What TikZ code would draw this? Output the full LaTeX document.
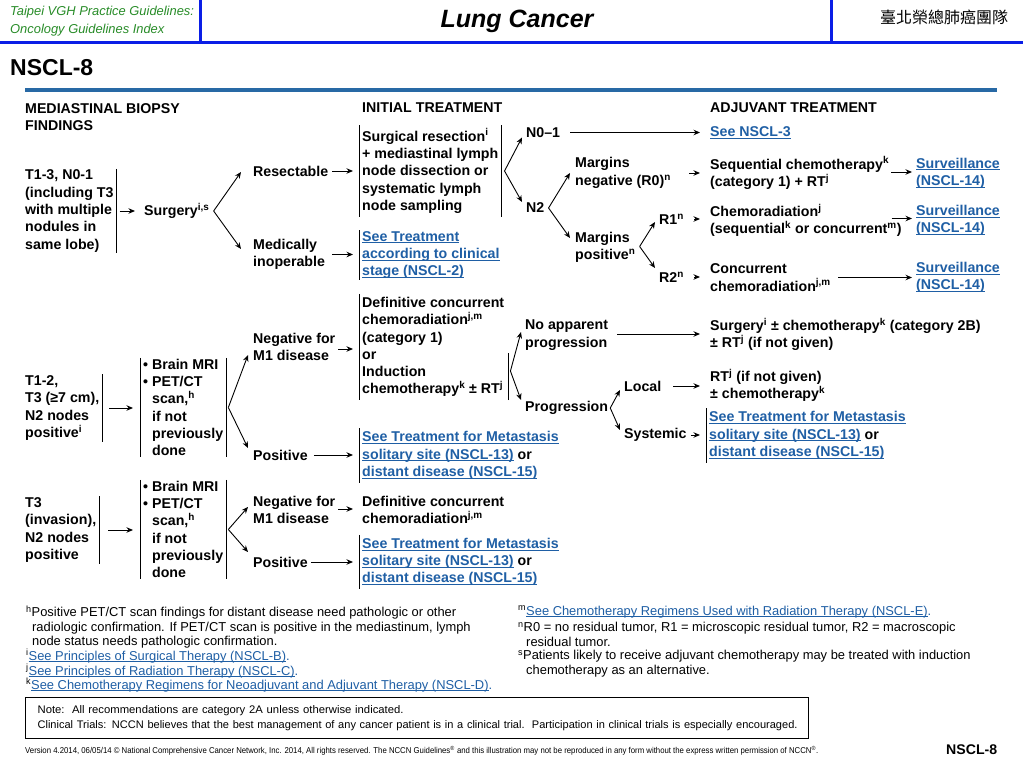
\documentclass[tikz,border=0pt]{standalone}
\usepackage{fontspec}
\setmainfont{Liberation Sans}
\newfontfamily\cjkfont{Noto Sans CJK TC}
\usepackage{graphicx}
\usetikzlibrary{arrows.meta,calc}
\definecolor{lnkblue}{RGB}{31,95,165}
\definecolor{hblue}{RGB}{10,30,230}
\definecolor{hgreen}{RGB}{40,140,40}
\definecolor{rulecol}{RGB}{40,105,165}
\newcommand{\bodyf}{\fontsize{14.2}{17.3}\selectfont\bfseries}
\newcommand{\fnf}{\fontsize{12.9}{14.6}\selectfont}
\newcommand{\su}[1]{\textsuperscript{#1}}
\newcommand{\lk}[1]{\setbox0\hbox{#1}\rlap{\rule[-2.2pt]{\wd0}{0.9pt}}\box0}
\newcommand{\lkf}[1]{\setbox0\hbox{#1}\rlap{\rule[-1.8pt]{\wd0}{0.7pt}}\box0}
\newcommand{\bk}[1]{\textcolor{black}{#1}}
\newcommand{\blk}[1]{\textcolor{lnkblue}{\lkf{#1}}}
\newcommand{\ind}{\phantom{\textbullet\ }}
\tikzset{
  txt/.style={font=\bodyf, align=left, inner sep=0pt, anchor=west},
  lnk/.style={txt, text=lnkblue},
  fn/.style={font=\fnf, align=left, inner sep=0pt, anchor=west},
  barline/.style={draw=black, line width=1pt, -},
  lbar/.style={inner xsep=3pt, inner ysep=1pt, append after command={(\tikzlastnode.north west) edge[barline] (\tikzlastnode.south west)}},
  rbar/.style={inner xsep=3pt, inner ysep=1pt, append after command={(\tikzlastnode.north east) edge[barline] (\tikzlastnode.south east)}},
  arr/.style={-{Stealth[length=6.5pt,width=5.5pt]}, line width=0.9pt},
}
\begin{document}
\begin{tikzpicture}[x=1pt,y=-1pt]
\useasboundingbox (0,0) rectangle (1023,767);
\fill[white] (0,0) rectangle (1023,767);
% header
\draw[hblue, line width=3pt] (0,43) -- (1023,43);
\draw[hblue, line width=3pt] (200,0) -- (200,43);
\draw[hblue, line width=3pt] (831,0) -- (831,43);
\node[anchor=west, inner sep=0pt, align=left, text=hgreen, font=\fontsize{12.9}{18}\selectfont\itshape] (hdr) at (10,21) {Taipei VGH Practice Guidelines:\\Oncology Guidelines Index};
\node[inner sep=0pt, font=\fontsize{25}{30}\selectfont\bfseries\itshape] (title) at (517,21) {Lung Cancer};
\node[anchor=west, inner sep=0pt, font=\cjkfont\fontsize{16}{16}\selectfont] (cjk) at (880,17) {臺北榮總肺癌團隊};
\node[anchor=west, inner sep=0pt, font=\fontsize{23}{23}\selectfont\bfseries] (page) at (10,68) {NSCL-8};
\draw[rulecol, line width=4pt] (25,90) -- (997,90);
% column heads
\node[txt] (h1) at (25,117) {MEDIASTINAL BIOPSY\\FINDINGS};
\node[txt] (h2) at (362,108) {INITIAL TREATMENT};
\node[txt] (h3) at (710,108) {ADJUVANT TREATMENT};
% ---------- row 1
\node[txt,rbar] (t13) at (22,211) {T1-3, N0-1\\(including T3\\with multiple\\nodules in\\same lobe)};
\node[txt] (surg) at (144,211) {Surgery\su{i,s}};
\node[txt] (res) at (253,171) {Resectable};
\node[txt] (med) at (253,254.5) {Medically\\inoperable};
\node[txt,lbar,rbar,inner ysep=3pt] (srx) at (359,171) {Surgical resection\su{i}\\+ mediastinal lymph\\node dissection or\\systematic lymph\\node sampling};
\node[lnk,lbar] (seeT) at (359,255) {\lk{See Treatment}\\\lk{according to clinical}\\\lk{stage (NSCL-2)}};
\node[txt] (n01) at (526,132.5) {N0--1};
\node[txt] (n2) at (526,208) {N2};
\node[txt] (mneg) at (575,173) {Margins\\negative (R0)\su{n}};
\node[txt] (mpos) at (575,247.5) {Margins\\positive\su{n}};
\node[txt] (r1) at (659,219) {R1\su{n}};
\node[txt] (r2) at (659,277) {R2\su{n}};
\node[lnk] (nscl3) at (710,133) {\lk{See NSCL-3}};
\node[txt] (seq) at (710,173) {Sequential chemotherapy\su{k}\\(category 1) + RT\su{j}};
\node[txt] (chr) at (710,220.5) {Chemoradiation\su{j}\\(sequential\su{k} or concurrent\su{m})};
\node[txt] (conc) at (710,277.5) {Concurrent\\chemoradiation\su{j,m}};
\node[lnk] (sv1) at (916,173) {\lk{Surveillance}\\\lk{(NSCL-14)}};
\node[lnk] (sv2) at (916,220.5) {\lk{Surveillance}\\\lk{(NSCL-14)}};
\node[lnk] (sv3) at (916,277.5) {\lk{Surveillance}\\\lk{(NSCL-14)}};
% row 1 connectors
\draw[arr] ([xshift=3pt]t13.east) -- ([xshift=-9pt]t13.east -| surg.west);
\coordinate (v1) at ([xshift=4pt]surg.east);
\draw[arr] (v1) -- ([xshift=-12pt,yshift=-1pt]res.west);
\draw[arr] (v1) -- ([xshift=-12pt,yshift=5.5pt]med.west);
\draw[arr] ([xshift=4pt]res.east) -- ([xshift=-6pt]res.east -| srx.west);
\draw[arr] ([xshift=7pt]med.east) -- ([xshift=-6pt]med.east -| seeT.west);
\coordinate (v2) at ([xshift=3pt]srx.east);
\draw[arr] (v2) -- ([xshift=-4pt,yshift=-5pt]n01.west);
\draw[arr] (v2) -- ([xshift=-4pt,yshift=6pt]n2.west);
\draw[arr] ([xshift=10pt]n01.east) -- ([xshift=-10pt]n01.east -| nscl3.west);
\coordinate (v3) at ([xshift=4pt]n2.east);
\draw[arr] (v3) -- ([xshift=-5pt]mneg.west);
\draw[arr] (v3) -- ([xshift=-5pt,yshift=9.5pt]mpos.west);
\coordinate (v4) at ([xshift=4pt,yshift=1pt]mpos.east);
\draw[arr] (v4) -- ([xshift=-4pt,yshift=-3pt]r1.west);
\draw[arr] (v4) -- ([xshift=-4pt,yshift=9pt]r2.west);
\draw[arr] ([xshift=18pt]mneg.east) -- ([xshift=-10pt]mneg.east -| seq.west);
\draw[arr] ([xshift=10pt]r1.east) -- ([xshift=-10pt]r1.east -| chr.west);
\draw[arr] ([xshift=10pt]r2.east) -- ([xshift=-10pt]r2.east -| conc.west);
\draw[arr] ([xshift=2pt,yshift=1pt]seq.east) -- ([xshift=-4pt,yshift=1pt]seq.east -| sv1.west);
\draw[arr] ([xshift=-10pt,yshift=2pt]chr.east) -- ([xshift=-4pt,yshift=2pt]chr.east -| sv2.west);
\draw[arr] ([xshift=7pt]conc.east) -- ([xshift=-4pt]conc.east -| sv3.west);
% ---------- row 2
\node[txt,rbar] (t12) at (22,408) {T1-2,\\T3 (≥7 cm),\\N2 nodes\\positive\su{i}};
\node[txt,lbar,rbar] (br2) at (140,407.5) {• Brain MRI\\• PET/CT\\\ind scan,\su{h}\\\ind if not\\\ind previously\\\ind done};
\node[txt] (neg2) at (253,347) {Negative for\\M1 disease};
\node[txt] (pos2) at (253,455) {Positive};
\node[txt,lbar,inner ysep=3pt] (def) at (359,347) {Definitive concurrent\\chemoradiation\su{j,m}\\(category 1)\\or\\Induction\\chemotherapy\su{k} ± RT\su{j}};
\draw[barline] ([xshift=1pt]def.south east) -- ([xshift=1pt,yshift=47pt]def.south east);
\node[lnk,lbar,inner ysep=3pt] (met2) at (359,455.5) {\lk{See Treatment for Metastasis}\\\lk{solitary site (NSCL-13)}\ \bk{or}\\\lk{distant disease (NSCL-15)}};
\node[txt] (noap) at (525,335) {No apparent\\progression};
\node[txt] (prog) at (525,408) {Progression};
\node[txt] (loc) at (624,386) {Local};
\node[txt] (sys) at (624,435) {Systemic};
\node[txt] (surg2) at (710,334.5) {Surgery\su{i} ± chemotherapy\su{k} (category 2B)\\± RT\su{j} (if not given)};
\node[txt] (rt) at (710,385.5) {RT\su{j} (if not given)\\± chemotherapy\su{k}};
\node[lnk,lbar,inner ysep=3pt] (met3) at (706,435.5) {\lk{See Treatment for Metastasis}\\\lk{solitary site (NSCL-13)}\ \bk{or}\\\lk{distant disease (NSCL-15)}};
% row 2 connectors
\draw[arr] ([xshift=7pt]t12.east) -- ([xshift=-7pt]t12.east -| br2.west);
\coordinate (v5) at ([xshift=2pt]br2.east);
\draw[arr] (v5) -- ([xshift=-5pt,yshift=-8pt]neg2.west);
\draw[arr] (v5) -- ([xshift=-5pt,yshift=7pt]pos2.west);
\draw[arr] ([xshift=3pt,yshift=-2pt]neg2.east) -- ([xshift=-6pt,yshift=-2pt]neg2.east -| def.west);
\draw[arr] ([xshift=6pt]pos2.east) -- ([xshift=-6pt]pos2.east -| met2.west);
\coordinate (v6) at ([xshift=3pt,yshift=29pt]def.south east);
\draw[arr] (v6) -- ([xshift=-4pt,yshift=3pt]noap.west);
\draw[arr] (v6) -- ([xshift=-4pt,yshift=8pt]prog.west);
\coordinate (v7) at ([xshift=2pt]prog.east);
\draw[arr] (v7) -- ([xshift=-4pt,yshift=-4pt]loc.west);
\draw[arr] (v7) -- ([xshift=-4pt,yshift=5pt]sys.west);
\draw[arr] ([xshift=9pt,yshift=1pt]noap.east) -- ([xshift=-10pt,yshift=1pt]noap.east -| surg2.west);
\draw[arr] ([xshift=12pt]loc.east) -- ([xshift=-10pt]loc.east -| rt.west);
\draw[arr] ([xshift=4pt]sys.east) -- ([xshift=-6pt]sys.east -| met3.west);
% ---------- row 3
\node[txt,rbar] (t3) at (22,530) {T3\\(invasion),\\N2 nodes\\positive};
\node[txt,lbar,rbar] (br3) at (140,529.5) {• Brain MRI\\• PET/CT\\\ind scan,\su{h}\\\ind if not\\\ind previously\\\ind done};
\node[txt] (neg3) at (253,510) {Negative for\\M1 disease};
\node[txt] (pos3) at (253,562) {Positive};
\node[txt] (def2) at (362,510) {Definitive concurrent\\chemoradiation\su{j,m}};
\node[lnk,lbar,inner ysep=3pt] (met4) at (359,562) {\lk{See Treatment for Metastasis}\\\lk{solitary site (NSCL-13)}\ \bk{or}\\\lk{distant disease (NSCL-15)}};
\draw[arr] ([xshift=9pt]t3.east) -- ([xshift=-7pt]t3.east -| br3.west);
\coordinate (v8) at ([xshift=2pt]br3.east);
\draw[arr] (v8) -- ([xshift=-5pt,yshift=3pt]neg3.west);
\draw[arr] (v8) -- ([xshift=-5pt,yshift=10pt]pos3.west);
\draw[arr] ([xshift=3pt,yshift=1pt]neg3.east) -- ([xshift=-9pt,yshift=1pt]neg3.east -| def2.west);
\draw[arr] ([xshift=3pt]pos3.east) -- ([xshift=-6pt]pos3.east -| met4.west);
% ---------- footnotes
\node[fn] (fh) at (26,627) {\su{h}Positive PET/CT scan findings for distant disease need pathologic or other\\\hspace*{6pt}radiologic confirmation. If PET/CT scan is positive in the mediastinum, lymph\\\hspace*{6pt}node status needs pathologic confirmation.};
\node[fn] (fi) at (26,656) {\su{i}\blk{See Principles of Surgical Therapy (NSCL-B)}\textcolor{lnkblue}{.}};
\node[fn] (fj) at (26,671) {\su{j}\blk{See Principles of Radiation Therapy (NSCL-C)}\textcolor{lnkblue}{.}};
\node[fn] (fk) at (26,685) {\su{k}\blk{See Chemotherapy Regimens for Neoadjuvant and Adjuvant Therapy (NSCL-D)}\textcolor{lnkblue}{.}};
\node[fn] (fm) at (518,612) {\su{m}\blk{See Chemotherapy Regimens Used with Radiation Therapy (NSCL-E)}\textcolor{lnkblue}{.}};
\node[fn] (fn2) at (518,634.5) {\su{n}R0 = no residual tumor, R1 = microscopic residual tumor, R2 = macroscopic\\\hspace*{8pt}residual tumor.};
\node[fn] (fs) at (518,663.5) {\su{s}Patients likely to receive adjuvant chemotherapy may be treated with induction\\\hspace*{8pt}chemotherapy as an alternative.};
% ---------- note box
\node[draw, line width=1.2pt, anchor=north west, minimum width=783pt, minimum height=41pt, inner xsep=12pt, inner ysep=0pt, align=left, text width=759pt, font=\fontsize{11}{14.5}\selectfont] (note) at (25,697)
 {\resizebox{366pt}{\height}{Note:\ \ All recommendations are category 2A unless otherwise indicated.}\\
  \resizebox{760pt}{\height}{Clinical Trials: NCCN believes that the best management of any cancer patient is in a clinical trial.\ \ Participation in clinical trials is especially encouraged.}};
\node[anchor=west, inner sep=0pt, font=\fontsize{8.5}{9}\selectfont] (ver) at (25,751)
 {\resizebox{793pt}{\height}{Version 4.2014, 06/05/14 © National Comprehensive Cancer Network, Inc. 2014, All rights reserved. The NCCN Guidelines\textsuperscript{®} and this illustration may not be reproduced in any form without the express written permission of NCCN\textsuperscript{®}.}};
\node[anchor=west, inner sep=0pt, font=\fontsize{14}{14}\selectfont\bfseries] (pg2) at (946,750) {\resizebox{51pt}{\height}{NSCL-8}};
\end{tikzpicture}
\end{document}
